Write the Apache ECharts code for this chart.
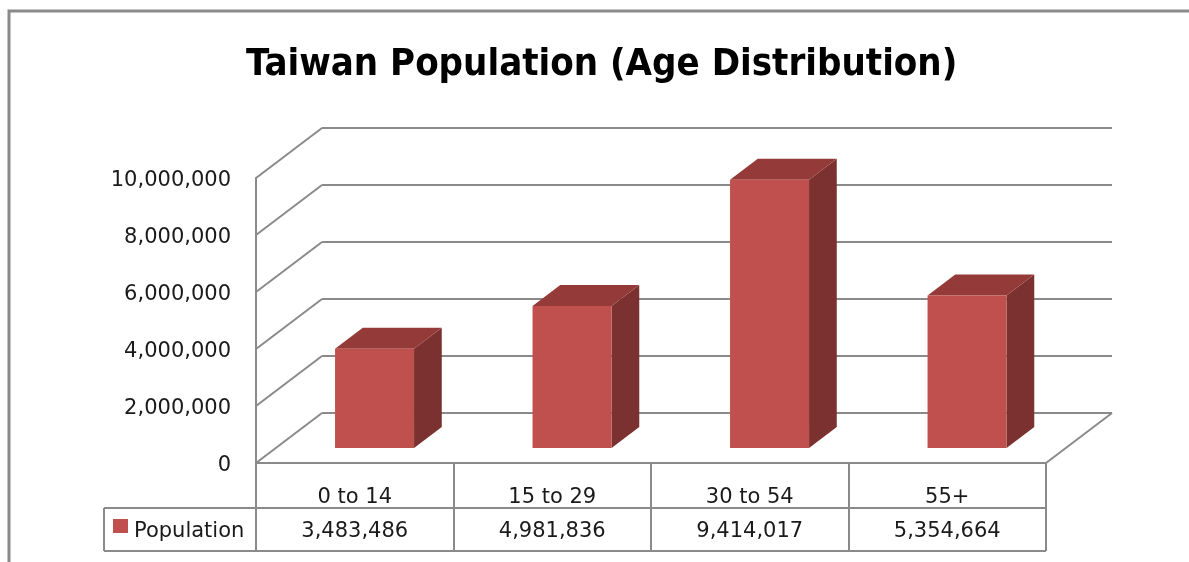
<!DOCTYPE html>
<html>
<head>
<meta charset="utf-8">
<script src="https://cdn.jsdelivr.net/npm/echarts@6/dist/echarts.min.js"></script>
<style>
html,body{margin:0;padding:0;background:#fff;}
#chart{width:1189px;height:562px;}
</style>
</head>
<body>
<div id="chart"></div>
<script>
var categories = ['0 to 14', '15 to 29', '30 to 54', '55+'];
var seriesName = 'Population';
var populationValues = [3483486, 4981836, 9414017, 5354664];
var yTicks = [0, 2000000, 4000000, 6000000, 8000000, 10000000];
var chartTitle = 'Taiwan Population (Age Distribution)';

var DX = 66, DY = -50;          // 3D depth offset of the back wall
var D0 = 0.30, D1 = 0.72;       // bar depth span (fraction of depth)
var GRAY = '#8a8a8a';
var FONT = 'DejaVu Sans';

function fmt(v) { return String(v).replace(/\B(?=(\d{3})+(?!\d))/g, ','); }

var chart = echarts.init(document.getElementById('chart'));

var option = {
  backgroundColor: '#fff',
  animation: false,
  title: {
    text: chartTitle,
    left: 241,
    top: 41,
    textStyle: { fontFamily: '"DejaVu Sans Condensed", sans-serif', fontWeight: 'bold', fontSize: 38, color: '#000' }
  },
  graphic: [{
    type: 'rect', shape: { x: 9, y: 11, width: 1200, height: 600 },
    style: { fill: 'none', stroke: GRAY, lineWidth: 3 }, silent: true, z: -10
  }],
  grid: { left: 256, top: 178, width: 790, height: 285, containLabel: false },
  xAxis: {
    type: 'category',
    data: categories,
    boundaryGap: true,
    axisLine: { show: true, lineStyle: { color: GRAY, width: 2 } },
    axisTick: { show: true, interval: 0, length: 88, alignWithLabel: false, lineStyle: { color: GRAY, width: 2 } },
    axisLabel: { interval: 0, margin: 24, fontFamily: FONT, fontSize: 21, color: '#1a1a1a' },
    splitLine: { show: false }
  },
  yAxis: {
    type: 'value',
    min: yTicks[0],
    max: yTicks[yTicks.length - 1],
    interval: yTicks[1] - yTicks[0],
    axisLine: { show: true, lineStyle: { color: GRAY, width: 2 } },
    axisTick: { show: false },
    splitLine: { show: false },
    axisLabel: {
      margin: 25, fontFamily: FONT, fontSize: 21, color: '#1a1a1a',
      formatter: function (v) { return '{a|' + fmt(v) + '}'; },
      rich: { a: { fontFamily: FONT, fontSize: 21, color: '#1a1a1a', padding: [6, 0, 0, 0] } }
    }
  },
  series: [
    {
      type: 'custom',
      name: 'walls',
      z: 1,
      silent: true,
      data: [0],
      renderItem: function (params, api) {
        var cs = params.coordSys;
        var L = cs.x, R = cs.x + cs.width;
        var y0 = api.coord([0, 0])[1];
        var ls = { stroke: GRAY, lineWidth: 2, fill: 'none' };
        var ch = [];
        yTicks.forEach(function (t) {
          var yf = api.coord([0, t])[1];
          ch.push({ type: 'line', shape: { x1: L, y1: yf, x2: L + DX, y2: yf + DY }, style: ls });
          ch.push({ type: 'line', shape: { x1: L + DX, y1: yf + DY, x2: R + DX, y2: yf + DY }, style: ls });
        });
        ch.push({ type: 'line', shape: { x1: R, y1: y0, x2: R + DX, y2: y0 + DY }, style: ls });
        // data table
        var legL = 104, r1 = y0 + 45, r2 = y0 + 88;
        ch.push({ type: 'line', shape: { x1: legL, y1: r1, x2: R, y2: r1 }, style: ls });
        ch.push({ type: 'line', shape: { x1: legL, y1: r2, x2: R, y2: r2 }, style: ls });
        ch.push({ type: 'line', shape: { x1: legL, y1: r1, x2: legL, y2: r2 }, style: ls });
        ch.push({ type: 'line', shape: { x1: L, y1: r1, x2: L, y2: r2 }, style: ls });
        ch.push({ type: 'rect', shape: { x: legL + 9, y: r1 + 11, width: 15, height: 14 }, style: { fill: '#C0504D' } });
        ch.push({ type: 'text', style: { text: seriesName, x: legL + 30, y: (r1 + r2) / 2 + 2, textVerticalAlign: 'middle', textAlign: 'left', font: '21px "DejaVu Sans"', fill: '#1a1a1a' } });
        return { type: 'group', children: ch };
      }
    },
    {
      type: 'custom',
      name: seriesName,
      z: 5,
      data: populationValues.map(function (v, i) { return [i, v]; }),
      renderItem: function (params, api) {
        var i = api.value(0), v = api.value(1);
        var c0 = api.coord([i, 0]);
        var c1 = api.coord([i, v]);
        var band = api.size([1, 0])[0];
        var w = band * 0.4;
        var xl = c0[0] - w / 2 + DX * D0, xr = xl + w;
        var yb = c0[1] + DY * D0, yt = c1[1] + DY * D0;
        var ddx = DX * (D1 - D0), ddy = DY * (D1 - D0);
        var y0 = c0[1];
        return {
          type: 'group',
          children: [
            { type: 'polygon', shape: { points: [[xr, yt], [xr + ddx, yt + ddy], [xr + ddx, yb + ddy], [xr, yb]] }, style: { fill: '#7B3130' } },
            { type: 'polygon', shape: { points: [[xl, yt], [xl + ddx, yt + ddy], [xr + ddx, yt + ddy], [xr, yt]] }, style: { fill: '#943B39' } },
            { type: 'rect', shape: { x: xl, y: yt, width: w, height: yb - yt }, style: { fill: '#C0504D' } },
            { type: 'text', style: { text: fmt(v), x: c0[0], y: y0 + 69, textAlign: 'center', textVerticalAlign: 'middle', font: '21px "DejaVu Sans"', fill: '#1a1a1a' } }
          ]
        };
      }
    }
  ]
};
chart.setOption(option);
</script>
</body>
</html>
